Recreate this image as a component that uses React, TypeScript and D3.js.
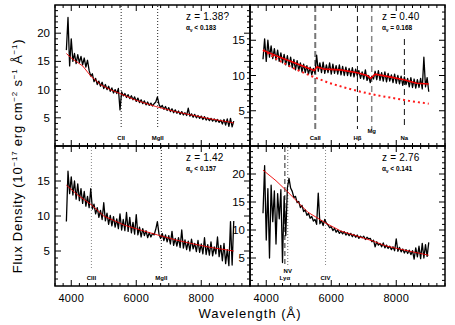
import * as d3 from "d3";

// ---- data ----
const STEP = 50; // Å between spectrum samples
const specStart = [3850, 3900, 3850, 3900];

const fluxTL = [
  17.0, 22.8, 14.2, 19.0, 15.0, 16.4, 14.6, 16.2, 14.8, 15.9,
  14.4, 15.6, 14.0, 15.2, 13.4, 12.4, 12.8, 11.4, 12.0, 10.9,
  11.5, 10.6, 11.3, 10.2, 10.9, 10.0, 10.6, 9.7, 10.3, 9.4,
  10.0, 9.3, 10.2, 6.4, 9.6, 8.9, 9.3, 8.6, 9.1, 8.4,
  8.9, 8.2, 8.7, 7.9, 8.5, 7.7, 8.2, 7.5, 8.0, 7.3,
  7.8, 7.2, 7.6, 7.1, 7.5, 7.8, 8.7, 7.4, 6.8, 7.2,
  6.5, 7.0, 6.3, 6.8, 6.1, 6.6, 5.9, 6.4, 5.8, 6.2,
  5.6, 6.1, 5.5, 5.9, 5.4, 6.7, 5.3, 5.7, 5.1, 5.6,
  5.0, 5.4, 4.9, 5.3, 4.7, 5.2, 4.6, 5.0, 4.5, 4.9,
  4.4, 4.8, 4.3, 4.7, 4.2, 4.6, 3.9, 4.7, 3.7, 4.8,
  3.5, 4.9, 3.4, 4.4,
];
const fluxTR = [
  12.3, 15.2, 12.0, 15.0, 12.6, 14.2, 12.4, 13.8, 12.2, 13.6,
  12.0, 13.2, 11.8, 13.0, 11.5, 12.8, 11.3, 12.6, 11.1, 12.3,
  10.8, 12.1, 10.7, 11.8, 10.5, 11.6, 10.4, 11.4, 10.2, 11.2,
  10.1, 11.0, 10.3, 12.9, 10.6, 11.8, 10.4, 11.9, 10.3, 11.5,
  10.4, 11.8, 10.2, 11.6, 10.3, 11.4, 10.2, 11.5, 10.1, 11.3,
  10.0, 11.2, 10.0, 11.0, 9.9, 11.1, 9.8, 10.9, 10.0, 10.7,
  9.6, 10.5, 9.5, 10.8, 9.3, 10.0, 9.0, 9.9, 9.5, 10.6,
  9.4, 10.7, 9.3, 10.4, 9.2, 10.5, 9.1, 10.3, 9.2, 10.1,
  9.0, 10.2, 8.9, 10.0, 8.8, 9.9, 8.6, 9.8, 8.7, 9.6,
  8.4, 9.7, 8.3, 9.5, 8.2, 9.4, 8.3, 9.6, 8.1, 12.6,
  8.4, 9.7, 7.7,
];
const fluxBL = [
  9.2, 16.4, 13.2, 15.6, 13.0, 15.0, 12.4, 14.6, 12.2, 13.9,
  11.8, 13.5, 11.4, 12.8, 11.2, 13.9, 11.0, 11.7, 10.3, 11.2,
  9.8, 10.8, 9.5, 11.9, 9.3, 10.4, 8.8, 10.1, 8.6, 9.9,
  8.4, 9.6, 8.2, 10.3, 8.0, 9.5, 7.9, 10.5, 7.8, 9.8,
  7.6, 9.1, 7.4, 10.2, 7.3, 8.4, 7.0, 8.2, 7.2, 7.9,
  6.9, 7.6, 7.0, 7.5, 7.3, 8.1, 9.2, 7.4, 6.8, 7.5,
  6.5, 7.3, 6.3, 7.2, 6.0, 7.8, 5.8, 6.8, 5.7, 6.9,
  5.5, 8.0, 5.4, 6.6, 5.2, 6.4, 5.0, 6.7, 5.3, 6.1,
  4.9, 6.5, 4.8, 6.0, 4.6, 6.9, 4.5, 5.9, 4.4, 6.3,
  4.3, 5.6, 4.6, 7.0, 4.2, 5.8, 3.6, 6.1, 3.2, 5.2,
  2.9, 9.2, 3.0, 9.3,
];
const fluxBR = [
  13.0, 21.5, 8.2, 17.4, 5.0, 18.0, 11.5, 17.0, 7.5, 16.5,
  12.0, 17.2, 4.2, 16.0, 9.0, 17.5, 19.2, 17.5, 16.9, 15.8,
  16.0, 14.9, 15.1, 14.0, 14.4, 13.3, 13.6, 12.6, 13.0, 12.1,
  12.4, 11.6, 11.9, 11.0, 16.6, 11.1, 11.7, 10.8, 11.9, 11.2,
  10.9, 10.4, 10.6, 9.9, 10.3, 9.6, 10.0, 9.4, 9.8, 9.3,
  9.7, 9.1, 9.5, 9.0, 9.4, 8.8, 9.2, 8.7, 9.1, 8.5,
  8.9, 8.6, 8.9, 8.3, 8.7, 8.4, 8.5, 7.9, 8.2, 7.0,
  7.9, 7.3, 7.6, 7.0, 7.7, 6.8, 7.3, 6.7, 7.1, 6.5,
  7.0, 6.3, 8.4, 6.2, 6.9, 6.1, 6.6, 5.9, 6.5, 5.8,
  6.4, 5.6, 6.3, 4.8, 6.8, 5.2, 7.1, 4.9, 7.6, 5.0,
  7.4, 5.3, 7.8,
];
const fluxes = [fluxTL, fluxTR, fluxBL, fluxBR];

// fitted models (red), [wavelength, flux]
const modelTL = [[3850, 16.4], [4000, 15.6], [4350, 14.2], [4600, 12.4], [4900, 10.9], [5200, 10.0], [5500, 9.3], [6000, 8.1], [6600, 7.0], [7200, 6.1], [7700, 5.5], [8200, 4.9], [9000, 4.1]];
const modelTR = [[3900, 13.6], [4300, 12.8], [4765, 12.0], [5200, 11.2], [5480, 10.7], [5560, 11.2], [5800, 10.9], [6285, 10.8], [6806, 10.4], [7100, 10.0], [7215, 9.6], [7350, 10.2], [7800, 9.8], [8235, 9.4], [8630, 8.9], [9000, 8.8]];
const modelBL = [[3850, 14.4], [4200, 13.0], [4620, 11.6], [5000, 10.0], [5630, 8.7], [6200, 7.9], [6650, 7.3], [7200, 6.6], [7670, 6.1], [8300, 5.5], [9000, 5.0]];
const modelBR = [[3900, 20.7], [4300, 18.8], [4660, 16.8], [5000, 14.8], [5275, 13.2], [5840, 11.2], [6300, 9.8], [6800, 8.9], [7300, 8.0], [7650, 7.2], [8030, 6.7], [8500, 6.1], [9000, 5.5]];
const models = [modelTL, modelTR, modelBL, modelBR];
// power-law continuum in the z = 0.40 panel (red dotted)
const powerLawTR = [[3900, 13.6], [4400, 12.1], [4900, 10.9], [5400, 9.9], [5900, 9.0], [6400, 8.3], [6900, 7.7], [7400, 7.2], [7900, 6.8], [8400, 6.4], [9000, 6.0]];

const zText = ["1.38?", "0.40", "1.42", "2.76"];
const zValue = [1.38, 0.40, 1.42, 2.76];
const alphaText = ["< 0.183", "= 0.168", "< 0.157", "< 0.141"];
const yMaxes = [25, 20, 20, 25];
const yTickLabels = [[5, 10, 15, 20], [5, 10, 15], [5, 10, 15], [5, 10, 15, 20]];
const xTickLabels = [4000, 6000, 8000];

const lineNames = [["CII", "MgII"], ["CaII", "Hβ", "Mg", "Na"], ["CIII", "MgII"], ["Lyα", "NV", "CIV"]];
const lineRest = [[2326, 2798], [3934, 4861, 5175, 5893], [1909, 2798], [1216, 1240, 1549]];

// ---- layout ----
const LEFT = 55, MID = 250, TOP = 5, MIDY = 146, BOTTOM = 286, PW = 195;
const FONT = "'Liberation Sans', Arial, Helvetica, sans-serif";

const lineStyle: Record<string, { dash: string; color: string; w: number }> = {
  "0CII": { dash: "1,2", color: "#222", w: 1 },
  "0MgII": { dash: "1,2", color: "#222", w: 1 },
  "1CaII": { dash: "6,3", color: "#777", w: 2 },
  "1Hβ": { dash: "6,4", color: "#111", w: 1 },
  "1Mg": { dash: "6,4", color: "#888", w: 1.5 },
  "1Na": { dash: "6,4", color: "#111", w: 1 },
  "2CIII": { dash: "1,2", color: "#888", w: 1 },
  "2MgII": { dash: "1,2", color: "#222", w: 1 },
  "3Lyα": { dash: "5,3", color: "#555", w: 1.3 },
  "3NV": { dash: "1,2", color: "#666", w: 1 },
  "3CIV": { dash: "1,2", color: "#888", w: 1 },
};

function Panel({ i }: { i: number }) {
  const x0 = i % 2 === 0 ? LEFT : MID;
  const y0 = i < 2 ? TOP : MIDY;
  const y1 = i < 2 ? MIDY : BOTTOM;
  const xs = d3.scaleLinear().domain([3500, 9500]).range([x0, x0 + PW]);
  const ys = d3.scaleLinear().domain([0, yMaxes[i]]).range([y1, y0]);
  const line = d3.line<number[]>().x(d => xs(d[0])).y(d => ys(d[1]));
  const spec = fluxes[i].map((f, k) => [specStart[i] + k * STEP, f]);

  const xMinor = d3.range(3500, 9501, 250);
  const yMinor = d3.range(1, yMaxes[i], 1);

  return (
    <g>
      {/* vertical line markers */}
      {lineNames[i].map((name, k) => {
        const st = lineStyle[i + name];
        const lx = xs(lineRest[i][k] * (1 + zValue[i]));
        const top = name === "Na" ? y0 + 34 : y0 + 1;
        const bot = i === 3 ? y1 - 21 : y1 - 17;
        const ly = name === "NV" ? y1 - 13 : name === "Mg" ? y1 - 13 : y1 - 6;
        return (
          <g key={name}>
            <line x1={lx} x2={lx} y1={top} y2={bot} stroke={st.color} strokeWidth={st.w} strokeDasharray={st.dash} />
            <text x={lx} y={ly} textAnchor="middle" fontSize={6} fontWeight="bold" fontFamily={FONT}>{name}</text>
          </g>
        );
      })}
      <path d={line(spec) || ""} fill="none" stroke="#000" strokeWidth={1.3} strokeLinejoin="round" />
      {i === 1 && (
        <path d={line(powerLawTR) || ""} fill="none" stroke="#ff1a1a" strokeWidth={2} strokeDasharray="2,3" />
      )}
      <path d={line(models[i]) || ""} fill="none" stroke="#ee0000" strokeWidth={i === 1 ? 1.6 : 0.9} />

      {/* ticks */}
      {xMinor.map(v => {
        const len = xTickLabels.includes(v) ? 6 : 3;
        return (
          <g key={"x" + v}>
            <line x1={xs(v)} x2={xs(v)} y1={y1} y2={y1 - len} stroke="#000" />
            <line x1={xs(v)} x2={xs(v)} y1={y0} y2={y0 + len} stroke="#000" />
          </g>
        );
      })}
      {yMinor.map(v => {
        const len = v % 5 === 0 ? 6 : 3;
        return (
          <g key={"y" + v}>
            <line x1={x0} x2={x0 + len} y1={ys(v)} y2={ys(v)} stroke="#000" />
            <line x1={x0 + PW} x2={x0 + PW - len} y1={ys(v)} y2={ys(v)} stroke="#000" />
          </g>
        );
      })}
      <rect x={x0} y={y0} width={PW} height={y1 - y0} fill="none" stroke="#000" strokeWidth={1.5} />

      {/* tick labels */}
      {yTickLabels[i].map(v => (
        <text key={"yl" + v} x={x0 - 5} y={ys(v) + 4} textAnchor="end" fontSize={11.5} fontFamily={FONT}>{v}</text>
      ))}
      {i >= 2 && xTickLabels.map(v => (
        <text key={"xl" + v} x={xs(v)} y={y1 + 16} textAnchor="middle" fontSize={11} fontFamily={FONT} letterSpacing={0.3}>{v}</text>
      ))}

      {/* annotations */}
      <text x={i % 2 === 0 ? x0 + 131 : x0 + 132} y={y0 + 15} fontSize={10} fontFamily={FONT} letterSpacing={0.2}>
        {"z  =  " + zText[i]}
      </text>
      <text x={i % 2 === 0 ? x0 + 131 : x0 + 132} y={y0 + 25} fontSize={6.5} fontWeight="bold" fontFamily={FONT}>
        α<tspan fontSize={4.5} dy={1.5}>ν</tspan>
        <tspan dy={-1.5}>{" " + alphaText[i]}</tspan>
      </text>
    </g>
  );
}

export default function App() {
  return (
    <svg width={455} height={325} style={{ position: "absolute", left: 0, top: 0, background: "#fff" }}>
      <rect width={455} height={325} fill="#fff" />
      {[0, 1, 2, 3].map(i => <Panel key={i} i={i} />)}
      <text x={250} y={318} textAnchor="middle" fontSize={13} fontFamily={FONT} letterSpacing={1}>
        Wavelength (Å)
      </text>
      <text transform="translate(22,156) rotate(-90)" textAnchor="middle" fontSize={13} fontFamily={FONT} letterSpacing={0.8}>
        Flux Density (10<tspan fontSize={8} dy={-5}>−17</tspan>
        <tspan dy={5}> erg cm</tspan><tspan fontSize={8} dy={-5}>−2</tspan>
        <tspan dy={5}> s</tspan><tspan fontSize={8} dy={-5}>−1</tspan>
        <tspan dy={5}> Å</tspan><tspan fontSize={8} dy={-5}>−1</tspan>
        <tspan dy={5}>)</tspan>
      </text>
    </svg>
  );
}
